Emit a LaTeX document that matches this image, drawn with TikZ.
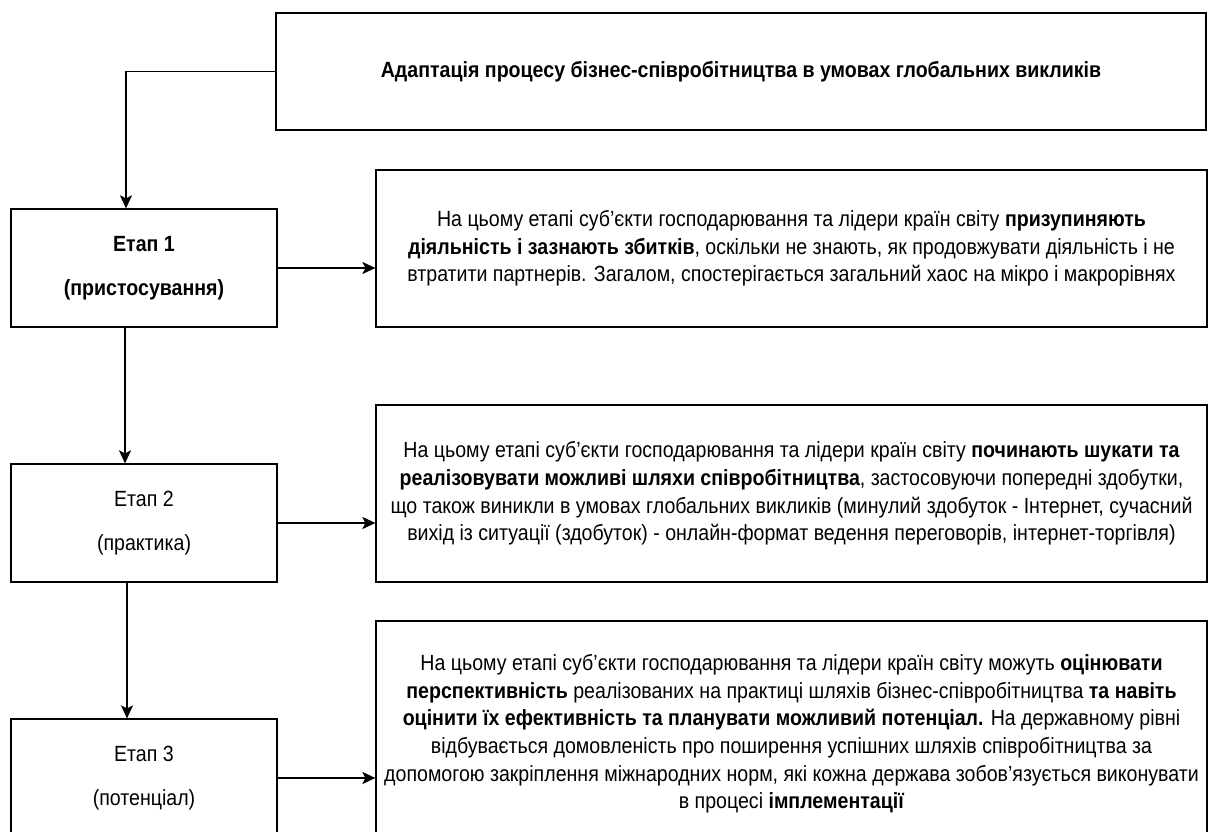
\documentclass[tikz,border=0pt]{standalone}
\usepackage{fontspec}
\setmainfont{Liberation Sans}[FakeStretch=0.89]
\usetikzlibrary{arrows.meta}

\tikzset{
  box/.style={draw, line width=1.2pt, align=center, inner sep=0pt},
  stagebox/.style={box, minimum width=266pt, minimum height=118pt,
    font=\fontsize{22}{44}\selectfont},
  descbox/.style={box, minimum width=831pt,
    font=\fontsize{22}{27.6}\selectfont},
  link/.style={line width=1.3pt, -{Stealth[length=13pt,width=12pt,inset=3pt]}},
  thicklink/.style={link, line width=2.4pt},
}

\begin{document}
\begin{tikzpicture}[x=1pt,y=-1pt]

\clip (0,0) rectangle (1208,832);

% Title
\node[box, minimum width=930pt, minimum height=117pt,
  font=\bfseries\fontsize{22}{26}\selectfont] (title) at (741,71.5)
  {Адаптація процесу бізнес-співробітництва в умовах глобальних викликів};

% Stages
\node[stagebox, font=\bfseries\fontsize{22}{44}\selectfont] (stage1) at (144,268) {Етап 1\\(пристосування)};
\node[stagebox] (stage2) at (144,523) {Етап 2\\(практика)};
\node[stagebox] (stage3) at (144,778) {Етап 3\\(потенціал)};

% Descriptions
\node[descbox, minimum height=157pt] (desc1) at (791.5,248.5)
  {На цьому етапі суб'єкти господарювання та лідери країн світу \textbf{призупиняють}\\
   \textbf{діяльність і зазнають збитків}, оскільки не знають, як продовжувати діяльність і не\\
   втратити партнерів. Загалом, спостерігається загальний хаос на мікро і макрорівнях};
\node[descbox, minimum height=177pt] (desc2) at (791.5,493.5)
  {На цьому етапі суб'єкти господарювання та лідери країн світу \textbf{починають шукати та}\\
   \textbf{реалізовувати можливі шляхи співробітництва}, застосовуючи попередні здобутки,\\
   що також виникли в умовах глобальних викликів (минулий здобуток - Інтернет, сучасний\\
   вихід із ситуації (здобуток) - онлайн-формат ведення переговорів, інтернет-торгівля)};
\node[descbox, minimum height=226pt] (desc3) at (791.5,734)
  {На цьому етапі суб'єкти господарювання та лідери країн світу можуть \textbf{оцінювати}\\
   \textbf{перспективність} реалізованих на практиці шляхів бізнес-співробітництва \textbf{та навіть}\\
   \textbf{оцінити їх ефективність та планувати можливий потенціал.} На державному рівні\\
   відбувається домовленість про поширення успішних шляхів співробітництва за\\
   допомогою закріплення міжнародних норм, які кожна держава зобов'язується виконувати\\
   в процесі \textbf{імплементації}};

% Arrows down
\draw[link] (title.west) -| ([xshift=-18pt]stage1.north);
\draw[link] ([xshift=-19pt]stage1.south) -- ([xshift=-19pt]stage2.north);
\draw[link] ([xshift=-17pt]stage2.south) -- ([xshift=-17pt]stage3.north);

% Arrows right
\draw[link] (stage1.east) -- (stage1.east -| desc1.west);
\draw[thicklink] (stage2.east) -- (stage2.east -| desc2.west);
\draw[thicklink] (stage3.east) -- (stage3.east -| desc3.west);

\end{tikzpicture}
\end{document}
